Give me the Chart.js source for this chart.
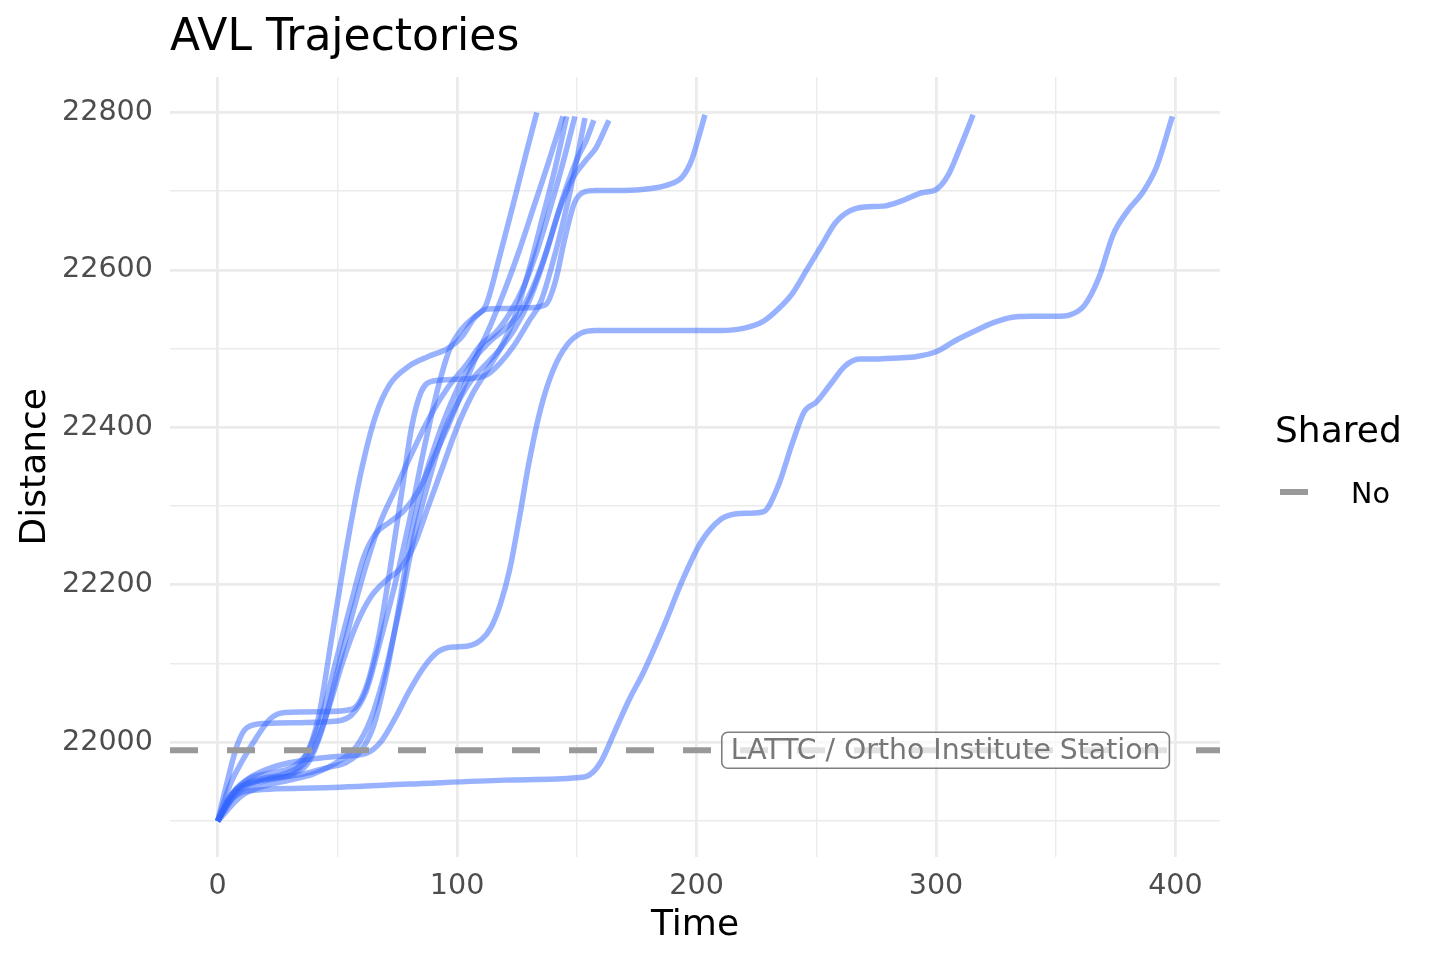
<!DOCTYPE html>
<html>
<head>
<meta charset="utf-8">
<title>AVL Trajectories</title>
<script src="https://cdn.jsdelivr.net/npm/chart.js@4/dist/chart.umd.min.js"></script>
<style>
  html, body { margin: 0; padding: 0; background: #ffffff; }
  #wrap { width: 1440px; height: 960px; }
</style>
</head>
<body>
<div id="wrap"><canvas id="avlChart" width="1440" height="960"></canvas></div>
<script>
// trajectories (time in s, distance along route)
const trip1Time = [0, 4, 8, 12, 20, 35, 50, 56, 62, 68, 74, 80, 86, 92, 97, 102, 107, 112, 118, 124, 129, 133.3];
const trip1Dist = [21900, 21950, 21995, 22018, 22024, 22025, 22027, 22035, 22065, 22130, 22200, 22280, 22370, 22450, 22500, 22525, 22540, 22555, 22620, 22690, 22750, 22800];

const trip2Time = [0, 5, 10, 16, 22, 28, 45, 56, 62, 67, 72, 77, 81, 85, 90, 100, 108, 113, 118, 124, 130, 135, 140, 145, 149, 153.4];
const trip2Dist = [21900, 21945, 21975, 22005, 22030, 22038, 22039, 22042, 22070, 22130, 22220, 22320, 22400, 22445, 22459, 22461, 22463, 22468, 22482, 22505, 22535, 22560, 22610, 22670, 22725, 22793];

const trip3Time = [0, 6, 14, 24, 32, 38, 44, 50, 56, 61, 66, 72, 78, 84, 90, 96, 102, 108, 114, 120, 126, 132, 138, 144.2];
const trip3Dist = [21900, 21935, 21955, 21962, 21970, 21990, 22040, 22110, 22180, 22235, 22265, 22280, 22295, 22320, 22360, 22400, 22445, 22490, 22530, 22575, 22625, 22680, 22735, 22795];

const trip4Time = [0, 8, 16, 24, 32, 40, 46, 52, 58, 64, 70, 76, 82, 88, 94, 100, 106, 112, 118, 124, 130, 136, 141, 145.8];
const trip4Dist = [21900, 21940, 21950, 21955, 21962, 21990, 22040, 22100, 22150, 22185, 22205, 22220, 22250, 22300, 22350, 22400, 22440, 22470, 22500, 22540, 22600, 22670, 22730, 22795];

const trip5Time = [0, 6, 14, 24, 32, 38, 44, 50, 56, 62, 68, 74, 80, 88, 96, 104, 110, 116, 122, 128, 134, 140, 145, 149.2];
const trip5Dist = [21900, 21930, 21948, 21955, 21960, 21975, 22020, 22090, 22160, 22225, 22280, 22320, 22360, 22410, 22450, 22480, 22505, 22520, 22545, 22580, 22630, 22690, 22745, 22795];

const trip6Time = [0, 8, 16, 26, 36, 46, 54, 60, 65, 70, 75, 80, 85, 90, 96, 102, 108, 114, 120, 126, 132, 138, 144, 150, 154, 157.1];
const trip6Dist = [21900, 21935, 21948, 21955, 21960, 21968, 21975, 21990, 22020, 22080, 22160, 22250, 22320, 22370, 22420, 22460, 22490, 22510, 22525, 22545, 22580, 22630, 22690, 22740, 22765, 22790];

const trip7Time = [0, 10, 20, 30, 40, 50, 58, 64, 70, 76, 82, 88, 94, 100, 106, 112, 118, 124, 130, 136, 142, 148, 154, 158, 163.4];
const trip7Dist = [21900, 21932, 21945, 21952, 21960, 21975, 21995, 22030, 22090, 22170, 22260, 22330, 22390, 22430, 22460, 22480, 22500, 22525, 22560, 22610, 22670, 22715, 22740, 22755, 22790];

const trip8Time = [0, 5, 12, 20, 28, 36, 42, 48, 54, 60, 66, 72, 80, 88, 96, 102, 107, 112, 120, 130, 137, 141, 145, 149, 153, 158, 170, 180, 188, 194, 198, 201, 203.5];
const trip8Dist = [21900, 21930, 21948, 21955, 21960, 21978, 22030, 22140, 22250, 22345, 22415, 22455, 22478, 22490, 22500, 22515, 22538, 22550, 22551, 22552, 22556, 22585, 22640, 22685, 22699, 22701, 22701, 22703, 22708, 22718, 22740, 22770, 22797];

const trip9Time = [0, 5, 12, 20, 30, 40, 50, 62, 68, 74, 80, 86, 92, 98, 104, 110, 114, 118, 122, 126, 130, 135, 140, 146, 152, 158, 170, 190, 210, 220, 228, 234, 240, 246, 252, 258, 264, 270, 278, 286, 294, 300, 305, 310, 315.5];
const trip9Dist = [21900, 21930, 21952, 21965, 21974, 21979, 21982, 21986, 22000, 22030, 22065, 22095, 22115, 22121, 22122, 22130, 22145, 22175, 22220, 22285, 22355, 22425, 22472, 22505, 22520, 22523, 22523, 22523, 22523, 22526, 22535, 22550, 22570, 22600, 22630, 22660, 22675, 22680, 22681, 22688, 22698, 22702, 22720, 22755, 22797];

const trip10Time = [0, 4, 12, 40, 80, 120, 150, 155, 160, 166, 172, 178, 186, 194, 202, 210, 216, 222, 228, 234, 240, 245, 250, 256, 262, 268, 276, 284, 292, 300, 308, 316, 324, 332, 340, 350, 356, 362, 368, 374, 380, 386, 392, 398.7];
const trip10Dist = [21900, 21922, 21938, 21942, 21947, 21952, 21955, 21958, 21975, 22015, 22055, 22090, 22145, 22205, 22255, 22283, 22290, 22291, 22293, 22325, 22380, 22420, 22432, 22455, 22478, 22487, 22487, 22488, 22490, 22496, 22510, 22522, 22533, 22540, 22541, 22541, 22543, 22555, 22590, 22645, 22675, 22697, 22730, 22795];

const tripTimes = [trip1Time, trip2Time, trip3Time, trip4Time, trip5Time, trip6Time, trip7Time, trip8Time, trip9Time, trip10Time];
const tripDists = [trip1Dist, trip2Dist, trip3Dist, trip4Dist, trip5Dist, trip6Dist, trip7Dist, trip8Dist, trip9Dist, trip10Dist];

const stationName = "LATTC / Ortho Institute Station";
const stationDistance = 21990;
const stationLabelTime = 304;

const xTicks = [0, 50, 100, 150, 200, 250, 300, 350, 400];
const yTicks = [21900, 22000, 22100, 22200, 22300, 22400, 22500, 22600, 22700, 22800];
const xRange = [-19.9, 418.6];
const yRange = [21855, 22845];

const legendTitle = "Shared";
const legendLabels = ["No"];

const FONT = "'DejaVu Sans', 'Liberation Sans', sans-serif";
const tripColor = "rgba(51, 102, 255, 0.5)";
const stationColor = "#999999";
const gridColor = "#ebebeb";

function isMajorX(v) { return v % 100 === 0; }
function isMajorY(v) { return (v - 22000) % 200 === 0; }

const datasets = [];

// station line first so it is painted over the trips
datasets.push({
    label: legendLabels[0],
    data: [{ x: xRange[0], y: stationDistance }, { x: xRange[1], y: stationDistance }],
    borderColor: stationColor,
    borderWidth: 6,
    borderDash: [28, 29],
    borderCapStyle: "butt",
    pointRadius: 0,
    tension: 0
});

tripTimes.forEach(function (times, i) {
    datasets.push({
        label: "trip " + (i + 1),
        data: times.map(function (t, j) { return { x: t, y: tripDists[i][j] }; }),
        borderColor: tripColor,
        borderWidth: 5.5,
        borderJoinStyle: "round",
        pointRadius: 0,
        cubicInterpolationMode: "monotone"
    });
});

const decorations = {
    id: "decorations",
    afterDatasetsDraw(chart) {
        const c = chart.ctx;
        const xs = chart.scales.x;
        const ys = chart.scales.y;
        const cx = xs.getPixelForValue(stationLabelTime);
        const cy = ys.getPixelForValue(stationDistance);
        c.save();
        c.font = "28.3px " + FONT;
        const w = c.measureText(stationName).width + 18;
        const h = 36;
        c.beginPath();
        c.roundRect(cx - w / 2, cy - h / 2, w, h, 6);
        c.fillStyle = "rgba(255, 255, 255, 0.7)";
        c.fill();
        c.lineWidth = 1.6;
        c.strokeStyle = "#7f7f7f";
        c.stroke();
        c.fillStyle = "#777777";
        c.textAlign = "center";
        c.textBaseline = "middle";
        c.fillText(stationName, cx, cy + 1);
        c.restore();
    },
    afterDraw(chart) {
        const c = chart.ctx;
        const area = chart.chartArea;
        c.save();
        c.fillStyle = "#000000";
        c.textBaseline = "alphabetic";

        c.font = "44px " + FONT;
        c.textAlign = "left";
        c.fillText("AVL Trajectories", area.left, 50);

        c.font = "36px " + FONT;
        c.textAlign = "center";
        c.fillText("Time", (area.left + area.right) / 2, 935);

        c.save();
        c.translate(45, (area.top + area.bottom) / 2);
        c.rotate(-Math.PI / 2);
        c.fillText("Distance", 0, 0);
        c.restore();

        // legend
        c.textAlign = "left";
        c.fillText(legendTitle, 1275, 442);
        c.strokeStyle = stationColor;
        c.lineWidth = 6;
        c.beginPath();
        c.moveTo(1280, 492);
        c.lineTo(1308, 492);
        c.stroke();
        c.font = "28.6px " + FONT;
        c.fillStyle = "#000000";
        c.fillText(legendLabels[0], 1351, 503);
        c.restore();
    }
};

new Chart(document.getElementById("avlChart").getContext("2d"), {
    type: "line",
    data: { datasets: datasets },
    plugins: [decorations],
    options: {
        responsive: false,
        animation: false,
        devicePixelRatio: 1,
        layout: { padding: { top: 77, right: 220, left: 0, bottom: 0 } },
        plugins: {
            legend: { display: false },
            title: { display: false },
            tooltip: { enabled: false }
        },
        scales: {
            x: {
                type: "linear",
                min: xRange[0],
                max: xRange[1],
                afterBuildTicks: function (scale) {
                    scale.ticks = xTicks.map(function (v) { return { value: v }; });
                },
                afterFit: function (scale) { scale.height = 103.5; },
                border: { display: false },
                grid: {
                    color: gridColor,
                    drawTicks: false,
                    lineWidth: function (ctx) { return isMajorX(ctx.tick.value) ? 2.8 : 1.4; }
                },
                ticks: {
                    autoSkip: false,
                    maxRotation: 0,
                    padding: 12.5,
                    color: "#4d4d4d",
                    font: { family: FONT, size: 28.6 },
                    callback: function (v) { return isMajorX(v) ? String(v) : ""; }
                }
            },
            y: {
                type: "linear",
                min: yRange[0],
                max: yRange[1],
                afterBuildTicks: function (scale) {
                    scale.ticks = yTicks.map(function (v) { return { value: v }; });
                },
                afterFit: function (scale) { scale.width = 170; },
                border: { display: false },
                grid: {
                    color: gridColor,
                    drawTicks: false,
                    lineWidth: function (ctx) { return isMajorY(ctx.tick.value) ? 2.8 : 1.4; }
                },
                ticks: {
                    autoSkip: false,
                    padding: 17,
                    color: "#4d4d4d",
                    font: { family: FONT, size: 28.6 },
                    callback: function (v) { return isMajorY(v) ? String(v) : ""; }
                }
            }
        }
    }
});
</script>
</body>
</html>
